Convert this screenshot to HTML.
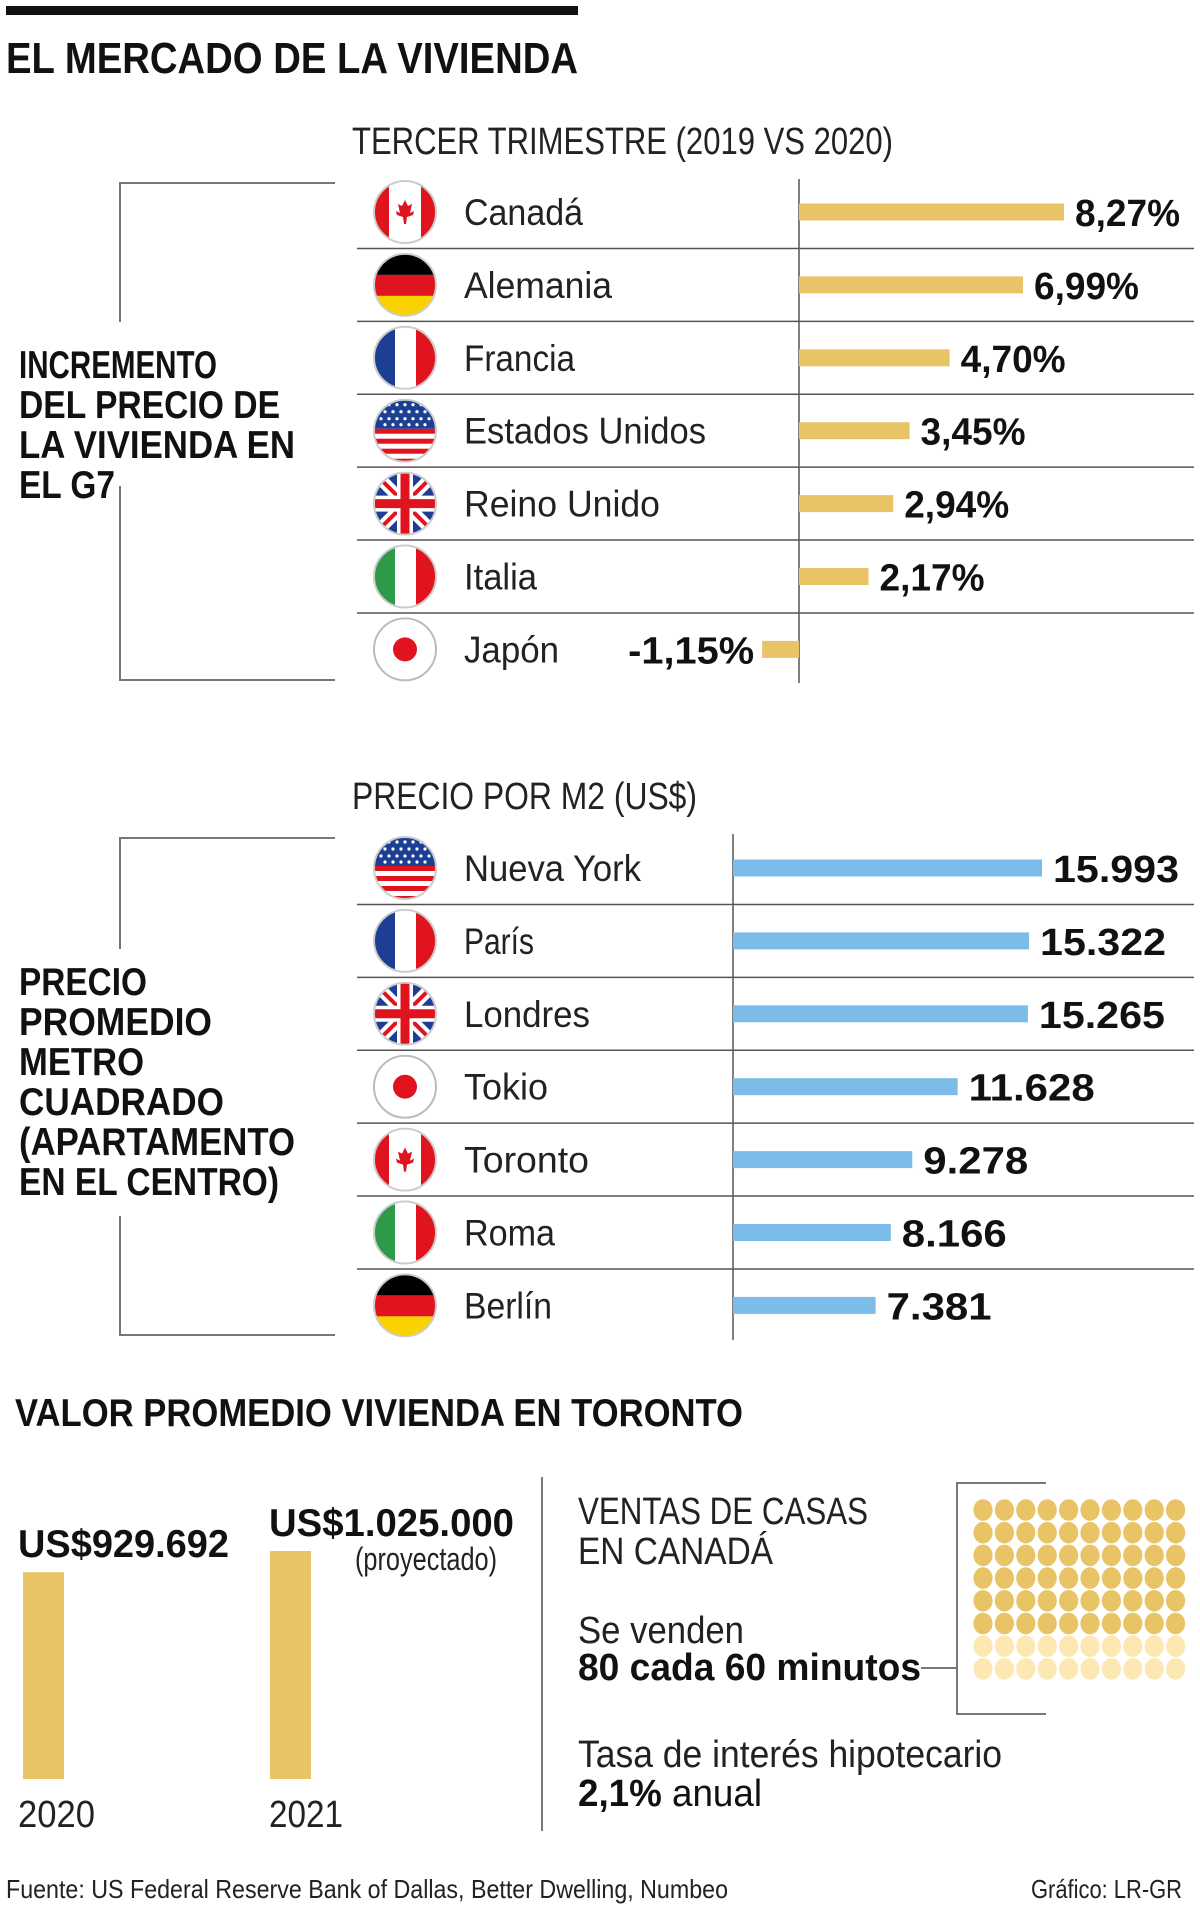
<!DOCTYPE html>
<html><head><meta charset="utf-8"><style>
html,body{margin:0;padding:0;background:#fff;}
svg{display:block;font-family:"Liberation Sans",sans-serif;}
</style></head><body>
<svg id="chart" width="1200" height="1909" viewBox="0 0 1200 1909" xmlns="http://www.w3.org/2000/svg">
<defs>
<clipPath id="cc"><circle cx="32" cy="32" r="31"/></clipPath>
<symbol id="f-ca" viewBox="0 0 64 64"><g clip-path="url(#cc)"><rect width="64" height="64" fill="#fff"/><rect width="16" height="64" fill="#e0141e"/><rect x="48" width="16" height="64" fill="#e0141e"/><path d="M32 20 L35 26 L39 24 L37 33 L41 31 L40 35 L34 37 L33 44 L31 44 L30 37 L24 35 L23 31 L27 33 L25 24 L29 26 Z" fill="#e0141e"/></g><circle cx="32" cy="32" r="31" fill="none" stroke="#ccc" stroke-width="2"/></symbol>
<symbol id="f-de" viewBox="0 0 64 64"><g clip-path="url(#cc)"><rect width="64" height="22" fill="#000"/><rect y="22" width="64" height="21" fill="#e0141e"/><rect y="43" width="64" height="21" fill="#f9d200"/></g><circle cx="32" cy="32" r="31" fill="none" stroke="#ccc" stroke-width="2"/></symbol>
<symbol id="f-fr" viewBox="0 0 64 64"><g clip-path="url(#cc)"><rect width="64" height="64" fill="#fff"/><rect width="22" height="64" fill="#1c3f94"/><rect x="43" width="21" height="64" fill="#e0141e"/></g><circle cx="32" cy="32" r="31" fill="none" stroke="#ccc" stroke-width="2"/></symbol>
<symbol id="f-us" viewBox="0 0 64 64"><g clip-path="url(#cc)"><rect width="64" height="64" fill="#fff"/><rect y="0" width="64" height="5" fill="#e0141e"/><rect y="10" width="64" height="5" fill="#e0141e"/><rect y="20" width="64" height="5" fill="#e0141e"/><rect y="30" width="64" height="5" fill="#e0141e"/><rect y="40" width="64" height="5" fill="#e0141e"/><rect y="50" width="64" height="5" fill="#e0141e"/><rect y="60" width="64" height="5" fill="#e0141e"/><rect width="64" height="30" fill="#1c3f94"/><g fill="#fff"><circle cx="8" cy="6" r="1.6"/><circle cx="16" cy="6" r="1.6"/><circle cx="24" cy="6" r="1.6"/><circle cx="32" cy="6" r="1.6"/><circle cx="40" cy="6" r="1.6"/><circle cx="48" cy="6" r="1.6"/><circle cx="56" cy="6" r="1.6"/><circle cx="12" cy="13" r="1.6"/><circle cx="20" cy="13" r="1.6"/><circle cx="28" cy="13" r="1.6"/><circle cx="36" cy="13" r="1.6"/><circle cx="44" cy="13" r="1.6"/><circle cx="52" cy="13" r="1.6"/><circle cx="8" cy="20" r="1.6"/><circle cx="16" cy="20" r="1.6"/><circle cx="24" cy="20" r="1.6"/><circle cx="32" cy="20" r="1.6"/><circle cx="40" cy="20" r="1.6"/><circle cx="48" cy="20" r="1.6"/><circle cx="56" cy="20" r="1.6"/><circle cx="12" cy="26" r="1.6"/><circle cx="20" cy="26" r="1.6"/><circle cx="28" cy="26" r="1.6"/><circle cx="36" cy="26" r="1.6"/><circle cx="44" cy="26" r="1.6"/><circle cx="52" cy="26" r="1.6"/></g></g><circle cx="32" cy="32" r="31" fill="none" stroke="#ccc" stroke-width="2"/></symbol>
<symbol id="f-uk" viewBox="0 0 64 64"><g clip-path="url(#cc)"><rect width="64" height="64" fill="#1c3f94"/><path d="M0 0 L64 64 M64 0 L0 64" stroke="#fff" stroke-width="12"/><path d="M0 0 L64 64 M64 0 L0 64" stroke="#e0141e" stroke-width="4"/><path d="M32 0 V64 M0 32 H64" stroke="#fff" stroke-width="16"/><path d="M32 0 V64 M0 32 H64" stroke="#e0141e" stroke-width="9"/></g><circle cx="32" cy="32" r="31" fill="none" stroke="#ccc" stroke-width="2"/></symbol>
<symbol id="f-it" viewBox="0 0 64 64"><g clip-path="url(#cc)"><rect width="64" height="64" fill="#fff"/><rect width="22" height="64" fill="#2e9a48"/><rect x="43" width="21" height="64" fill="#e0141e"/></g><circle cx="32" cy="32" r="31" fill="none" stroke="#ccc" stroke-width="2"/></symbol>
<symbol id="f-jp" viewBox="0 0 64 64"><circle cx="32" cy="32" r="31" fill="#fff"/><circle cx="32" cy="32" r="12" fill="#e0141e"/><circle cx="32" cy="32" r="31" fill="none" stroke="#bbb" stroke-width="2"/></symbol>
</defs>

<rect x="6" y="6" width="572" height="9" fill="#111"/>
<text x="6" y="73" font-size="44" font-weight="bold" textLength="572" lengthAdjust="spacingAndGlyphs" fill="#111">EL MERCADO DE LA VIVIENDA</text>

<!-- Section 1 -->
<g transform="translate(0,1)">
<text x="352" y="153" font-size="38" textLength="541" lengthAdjust="spacingAndGlyphs" fill="#222">TERCER TRIMESTRE (2019 VS 2020)</text>
<path d="M335 182 H120 V321 M120 485 V679 H335" fill="none" stroke="#777" stroke-width="2"/>
<g font-size="39" font-weight="bold" fill="#111">
<text x="19" y="377" textLength="198" lengthAdjust="spacingAndGlyphs">INCREMENTO</text>
<text x="19" y="417" textLength="261" lengthAdjust="spacingAndGlyphs">DEL PRECIO DE</text>
<text x="19" y="457" textLength="276" lengthAdjust="spacingAndGlyphs">LA VIVIENDA EN</text>
<text x="19" y="497" textLength="96" lengthAdjust="spacingAndGlyphs">EL G7</text>
</g>
<g id="c1"></g>
</g>

<!-- Section 2 -->
<g transform="translate(0,4)">
<text x="352" y="805" font-size="38" textLength="345" lengthAdjust="spacingAndGlyphs" fill="#222">PRECIO POR M2 (US$)</text>
<path d="M335 834 H120 V945 M120 1212 V1331 H335" fill="none" stroke="#777" stroke-width="2"/>
<g font-size="39" font-weight="bold" fill="#111">
<text x="19" y="991" textLength="128" lengthAdjust="spacingAndGlyphs">PRECIO</text>
<text x="19" y="1031" textLength="193" lengthAdjust="spacingAndGlyphs">PROMEDIO</text>
<text x="19" y="1071" textLength="125" lengthAdjust="spacingAndGlyphs">METRO</text>
<text x="19" y="1111" textLength="205" lengthAdjust="spacingAndGlyphs">CUADRADO</text>
<text x="19" y="1151" textLength="276" lengthAdjust="spacingAndGlyphs">(APARTAMENTO</text>
<text x="19" y="1191" textLength="260" lengthAdjust="spacingAndGlyphs">EN EL CENTRO)</text>
</g>
<g id="c2"></g>
</g>

<!-- Section 3 -->
<g transform="translate(0,7)">
<text x="15" y="1419" font-size="39" font-weight="bold" textLength="728" lengthAdjust="spacingAndGlyphs" fill="#111">VALOR PROMEDIO VIVIENDA EN TORONTO</text>
<g id="c3"></g>
<text x="355" y="1563" font-size="32" textLength="142" lengthAdjust="spacingAndGlyphs" fill="#222">(proyectado)</text>
<line x1="542" y1="1470" x2="542" y2="1824" stroke="#777" stroke-width="2"/>
<text x="578" y="1517" font-size="38" textLength="290" lengthAdjust="spacingAndGlyphs" fill="#222">VENTAS DE CASAS</text>
<text x="578" y="1557" font-size="38" textLength="195" lengthAdjust="spacingAndGlyphs" fill="#222">EN CANADÁ</text>
<text x="578" y="1636" font-size="38" textLength="166" lengthAdjust="spacingAndGlyphs" fill="#222">Se venden</text>
<text x="578" y="1673" font-size="38" font-weight="bold" textLength="343" lengthAdjust="spacingAndGlyphs" fill="#111">80 cada 60 minutos</text>
<path d="M921 1661 H957 M1046 1476 H957 V1707 H1046" fill="none" stroke="#777" stroke-width="2"/>
<g id="dots"></g>
<text x="578" y="1760" font-size="38" textLength="424" lengthAdjust="spacingAndGlyphs" fill="#222">Tasa de interés hipotecario</text>
<text x="578" y="1799" font-size="38" fill="#111" textLength="184" lengthAdjust="spacingAndGlyphs"><tspan font-weight="bold">2,1%</tspan> anual</text>
</g>
<text x="6" y="1898" font-size="26" textLength="722" lengthAdjust="spacingAndGlyphs" fill="#222">Fuente: US Federal Reserve Bank of Dallas, Better Dwelling,  Numbeo</text>
<text x="1182" y="1898" font-size="26" text-anchor="end" textLength="151" lengthAdjust="spacingAndGlyphs" fill="#222">Gráfico: LR-GR</text>
</svg>
<script>
const NS="http://www.w3.org/2000/svg";
const countries1=["Canadá","Alemania","Francia","Estados Unidos","Reino Unido","Italia","Japón"];
const flags1=["ca","de","fr","us","uk","it","jp"];
const growth=[8.27,6.99,4.70,3.45,2.94,2.17,-1.15];
const growthLabels=["8,27%","6,99%","4,70%","3,45%","2,94%","2,17%","-1,15%"];
const names1W=[119,148,111,242,196,73,95];
const cities=["Nueva York","París","Londres","Tokio","Toronto","Roma","Berlín"];
const flags2=["us","fr","uk","jp","ca","it","de"];
const prices=[15993,15322,15265,11628,9278,8166,7381];
const priceLabels=["15.993","15.322","15.265","11.628","9.278","8.166","7.381"];
const names2W=[177,70,126,84,125,91,88];
const years=["2020","2021"];
const torontoValues=[929692,1025000];
const torontoLabels=["US$929.692","US$1.025.000"];
const soldDots=60, totalDots=80;

function mk(tag,attrs,parent){const e=document.createElementNS(NS,tag);for(const k in attrs)e.setAttribute(k,attrs[k]);parent.appendChild(e);return e;}

function drawRows(g,names,nameW,flags,vals,labels,x0,scale,rowTop,step,axisTop,axisBot,color,chartName){
  const n=names.length;
  const ax=mk("line",{x1:x0,y1:axisTop,x2:x0,y2:axisBot,stroke:"#555","stroke-width":1.5},g);
  
  
  for(let i=0;i<n;i++){
    const cy=rowTop+i*step;
    if(i>0){
      const s=mk("line",{x1:357,y1:cy-step/2,x2:1194,y2:cy-step/2,stroke:"#555","stroke-width":1.5},g);
      
      
    }
    const f=mk("use",{href:"#f-"+flags[i],x:373,y:cy-32,width:64,height:64},g);
    
    
    const t=mk("text",{x:464,y:cy+13,"font-size":37,fill:"#222",textLength:nameW[i],lengthAdjust:"spacingAndGlyphs"},g);
    t.textContent=names[i];
    
    
    const w=vals[i]*scale;
    const bx=w>=0?x0:x0+w;
    const b=mk("rect",{x:bx,y:cy-8.5,width:Math.abs(w),height:17,fill:color},g);
    
    
    const lw=labels[i].length*21;
    const l=mk("text",{x:w>=0?x0+w+11:bx-8,y:cy+14,"font-size":38,"font-weight":"bold",fill:"#111","text-anchor":w>=0?"start":"end",textLength:lw,lengthAdjust:"spacingAndGlyphs"},g);
    l.textContent=labels[i];
    
    
  }
}
drawRows(document.getElementById("c1"),countries1,names1W,flags1,growth,growthLabels,799,265/8.27,211,72.9,178,682,"#e8c466","chart1");
drawRows(document.getElementById("c2"),cities,names2W,flags2,prices,priceLabels,733,309/15993,864,72.9,830,1336,"#7bbde8","chart2");

// Toronto bars
const g3=document.getElementById("c3");
const baseY=1772, tScale=228/1025000;
const barX=[23,270], labX=[18,269], labW=[211,245], yearW=[77,74];
for(let i=0;i<years.length;i++){
  const h=torontoValues[i]*tScale;
  const r=mk("rect",{x:barX[i],y:baseY-h,width:41,height:h,fill:"#e8c466"},g3);
  
  
  const vl=mk("text",{x:labX[i],y:baseY-h-15,"font-size":39,"font-weight":"bold",fill:"#111",textLength:labW[i],lengthAdjust:"spacingAndGlyphs"},g3);
  vl.textContent=torontoLabels[i];
  
  
  const yl=mk("text",{x:labX[i],y:1820,"font-size":38,fill:"#222",textLength:yearW[i],lengthAdjust:"spacingAndGlyphs"},g3);
  yl.textContent=years[i];
  
  
}
// dots
const gd=document.getElementById("dots");
for(let k=0;k<totalDots;k++){
  const row=Math.floor(k/10), col=k%10;
  const d=mk("ellipse",{cx:983+col*21.4,cy:1503+row*22.7,rx:9.6,ry:10.8,fill:k<soldDots?"#e8c466":"#fde8b4"},gd);
  
  
}
</script>
</body></html>
